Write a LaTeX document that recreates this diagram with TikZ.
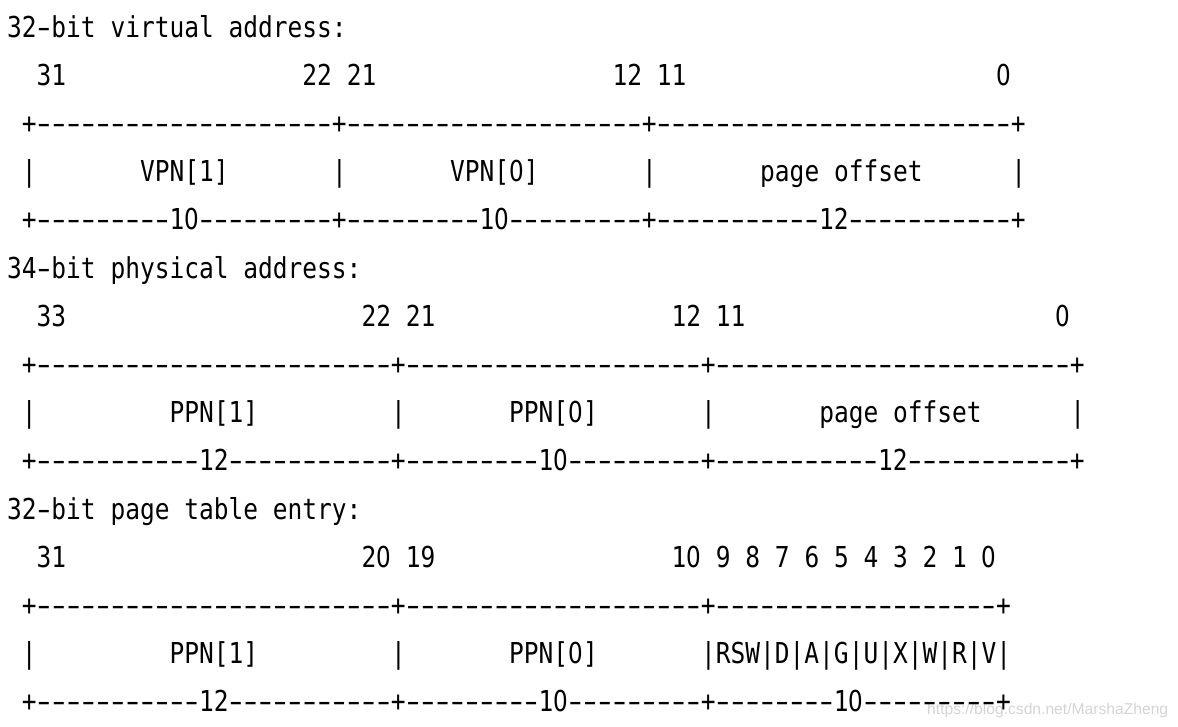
\documentclass[tikz,border=0pt]{standalone}
\usepackage{fontspec}
\usepackage{graphicx}
\setmonofont[FakeStretch=0.8513]{DejaVu Sans Mono}
\newfontfamily\zerofont[FakeStretch=0.8]{DejaVu Sans}
\newfontfamily\wmfont{Liberation Sans}
\definecolor{wmgray}{RGB}{212,212,212}
\newdimen\cw \cw=14.761pt
\newcommand\Z{\makebox[\cw]{\zerofont 0}}
\newcommand\dash{\makebox[\cw]{\scalebox{1.6}[1]{-}}}
\newcount\dcnt
\newcommand\Dn[1]{\dcnt=#1\relax\loop\ifnum\dcnt>0 \dash\advance\dcnt-1 \repeat}
\tikzset{
  txt/.style={anchor=base west, inner sep=0pt, outer sep=0pt,
    font=\ttfamily\fontsize{28.8}{30}\selectfont, text=black},
  wmark/.style={anchor=base west, inner sep=0pt,
    font=\wmfont\fontsize{15.65}{17}\selectfont, text=wmgray}
}
\newcommand\T[3]{\node[txt] (t#1x#2) at ({7.15+14.766*#2},{37+48.2*#1}) {#3};}
\begin{document}
\begin{tikzpicture}[x=1pt,y=-1pt]
\useasboundingbox (0,0) rectangle (1178,726);
\node[wmark] (wm) at (927,714) {https://blog.csdn.net/MarshaZheng};
% virtual address
\T{0}{0}{32\dash bit}\T{0}{7}{virtual}\T{0}{15}{address:}
\T{1}{2}{31}\T{1}{20}{22}\T{1}{23}{21}\T{1}{41}{12}\T{1}{44}{11}\T{1}{67}{\Z}
\T{2}{1}{+\Dn{20}+\Dn{20}+\Dn{24}+}
\T{3}{1}{|}\T{3}{9}{VPN[1]}\T{3}{22}{|}\T{3}{30}{VPN[\Z]}\T{3}{43}{|}\T{3}{51}{page}\T{3}{56}{offset}\T{3}{68}{|}
\T{4}{1}{+\Dn{9}1\Z\Dn{9}+\Dn{9}1\Z\Dn{9}+\Dn{11}12\Dn{11}+}
% physical address
\T{5}{0}{34\dash bit}\T{5}{7}{physical}\T{5}{16}{address:}
\T{6}{2}{33}\T{6}{24}{22}\T{6}{27}{21}\T{6}{45}{12}\T{6}{48}{11}\T{6}{71}{\Z}
\T{7}{1}{+\Dn{24}+\Dn{20}+\Dn{24}+}
\T{8}{1}{|}\T{8}{11}{PPN[1]}\T{8}{26}{|}\T{8}{34}{PPN[\Z]}\T{8}{47}{|}\T{8}{55}{page}\T{8}{60}{offset}\T{8}{72}{|}
\T{9}{1}{+\Dn{11}12\Dn{11}+\Dn{9}1\Z\Dn{9}+\Dn{11}12\Dn{11}+}
% page table entry
\T{10}{0}{32\dash bit}\T{10}{7}{page}\T{10}{12}{table}\T{10}{18}{entry:}
\T{11}{2}{31}\T{11}{24}{2\Z}\T{11}{27}{19}\T{11}{45}{1\Z}\T{11}{48}{9}\T{11}{50}{8}\T{11}{52}{7}\T{11}{54}{6}\T{11}{56}{5}\T{11}{58}{4}\T{11}{60}{3}\T{11}{62}{2}\T{11}{64}{1}\T{11}{66}{\Z}
\T{12}{1}{+\Dn{24}+\Dn{20}+\Dn{19}+}
\T{13}{1}{|}\T{13}{11}{PPN[1]}\T{13}{26}{|}\T{13}{34}{PPN[\Z]}\T{13}{47}{|RSW|D|A|G|U|X|W|R|V|}
\T{14}{1}{+\Dn{11}12\Dn{11}+\Dn{9}1\Z\Dn{9}+\Dn{8}1\Z\Dn{9}+}
\end{tikzpicture}
\end{document}
